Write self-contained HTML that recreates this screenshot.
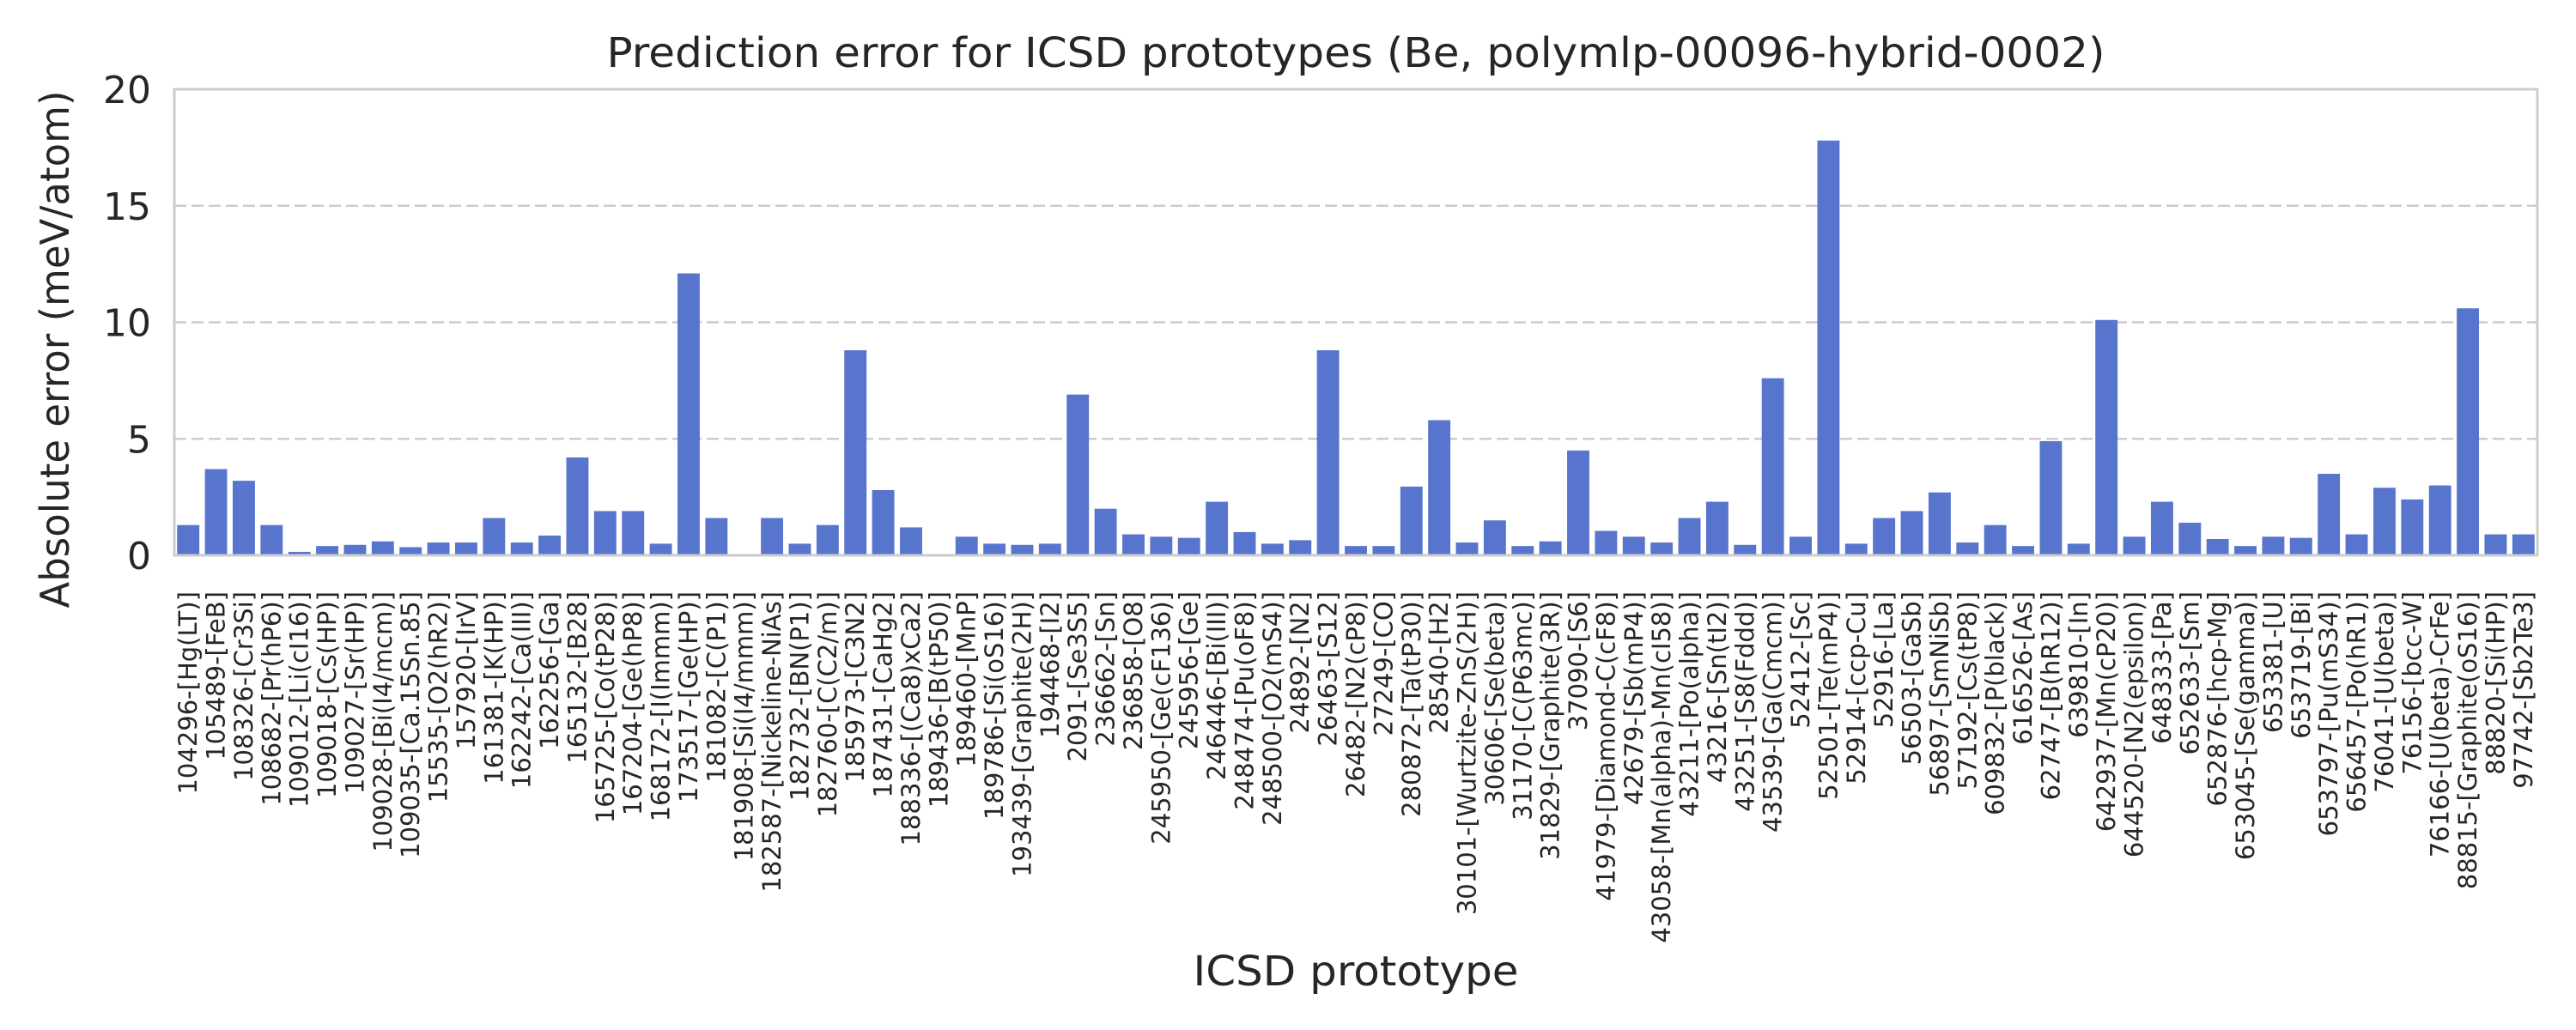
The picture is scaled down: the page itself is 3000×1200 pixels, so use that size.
<!DOCTYPE html>
<html><head><meta charset="utf-8"><style>
html,body{margin:0;padding:0;background:#fff;}
svg{display:block;font-family:"DejaVu Sans","Liberation Sans",sans-serif;}
</style></head><body>
<svg id="chart" width="3000" height="1200" viewBox="0 0 3000 1200">
<text x="1579" y="78" font-size="48" text-anchor="middle" textLength="1745" lengthAdjust="spacingAndGlyphs" fill="#262626">Prediction error for ICSD prototypes (Be, polymlp-00096-hybrid-0002)</text>
<text transform="translate(80,407) rotate(-90)" font-size="46" text-anchor="middle" textLength="603" lengthAdjust="spacingAndGlyphs" fill="#262626">Absolute error (meV/atom)</text>
<text x="1579" y="1148" font-size="48" text-anchor="middle" textLength="379" lengthAdjust="spacingAndGlyphs" fill="#262626">ICSD prototype</text>
<g id="grid"></g><g id="bars"></g><g id="yticks"></g><g id="xticks"></g>
<rect x="203" y="104" width="2752" height="543" fill="none" stroke="#cccccc" stroke-width="3"/>
</svg>
<script>
const categories = ["104296-[Hg(LT)]","105489-[FeB]","108326-[Cr3Si]","108682-[Pr(hP6)]","109012-[Li(cI16)]","109018-[Cs(HP)]","109027-[Sr(HP)]","109028-[Bi(I4/mcm)]","109035-[Ca.15Sn.85]","15535-[O2(hR2)]","157920-[IrV]","161381-[K(HP)]","162242-[Ca(III)]","162256-[Ga]","165132-[B28]","165725-[Co(tP28)]","167204-[Ge(hP8)]","168172-[I(Immm)]","173517-[Ge(HP)]","181082-[C(P1)]","181908-[Si(I4/mmm)]","182587-[Nickeline-NiAs]","182732-[BN(P1)]","182760-[C(C2/m)]","185973-[C3N2]","187431-[CaHg2]","188336-[(Ca8)xCa2]","189436-[B(tP50)]","189460-[MnP]","189786-[Si(oS16)]","193439-[Graphite(2H)]","194468-[I2]","2091-[Se3S5]","236662-[Sn]","236858-[O8]","245950-[Ge(cF136)]","245956-[Ge]","246446-[Bi(III)]","248474-[Pu(oF8)]","248500-[O2(mS4)]","24892-[N2]","26463-[S12]","26482-[N2(cP8)]","27249-[CO]","280872-[Ta(tP30)]","28540-[H2]","30101-[Wurtzite-ZnS(2H)]","30606-[Se(beta)]","31170-[C(P63mc)]","31829-[Graphite(3R)]","37090-[S6]","41979-[Diamond-C(cF8)]","42679-[Sb(mP4)]","43058-[Mn(alpha)-Mn(cI58)]","43211-[Po(alpha)]","43216-[Sn(tI2)]","43251-[S8(Fddd)]","43539-[Ga(Cmcm)]","52412-[Sc]","52501-[Te(mP4)]","52914-[ccp-Cu]","52916-[La]","56503-[GaSb]","56897-[SmNiSb]","57192-[Cs(tP8)]","609832-[P(black)]","616526-[As]","62747-[B(hR12)]","639810-[In]","642937-[Mn(cP20)]","644520-[N2(epsilon)]","648333-[Pa]","652633-[Sm]","652876-[hcp-Mg]","653045-[Se(gamma)]","653381-[U]","653719-[Bi]","653797-[Pu(mS34)]","656457-[Po(hR1)]","76041-[U(beta)]","76156-[bcc-W]","76166-[U(beta)-CrFe]","88815-[Graphite(oS16)]","88820-[Si(HP)]","97742-[Sb2Te3]"];
const errors = [1.3,3.7,3.2,1.3,0.15,0.4,0.45,0.6,0.35,0.55,0.55,1.6,0.55,0.85,4.2,1.9,1.9,0.5,12.1,1.6,0.0,1.6,0.5,1.3,8.8,2.8,1.2,0.0,0.8,0.5,0.45,0.5,6.9,2.0,0.9,0.8,0.75,2.3,1.0,0.5,0.65,8.8,0.4,0.4,2.95,5.8,0.55,1.5,0.4,0.6,4.5,1.05,0.8,0.55,1.6,2.3,0.45,7.6,0.8,17.8,0.5,1.6,1.9,2.7,0.55,1.3,0.4,4.9,0.5,10.1,0.8,2.3,1.4,0.7,0.4,0.8,0.75,3.5,0.9,2.9,2.4,3.0,10.6,0.9,0.9];
const yTicks = [0,5,10,15,20];

const NS="http://www.w3.org/2000/svg";
const L=203,R=2955,T=104,B=647,yMax=20;
const step=(R-L)/categories.length;
const xPos=i=>L+step*(i+0.5);
const yPos=v=>B-(v/yMax)*(B-T);
function mk(tag,attrs,parent){const e=document.createElementNS(NS,tag);for(const k in attrs)e.setAttribute(k,attrs[k]);parent.appendChild(e);return e;}
const grid=document.getElementById('grid'),bars=document.getElementById('bars'),yt=document.getElementById('yticks'),xt=document.getElementById('xticks');
yTicks.forEach(v=>{
  if(v>0&&v<yMax){const g=mk('line',{x1:L,x2:R,y1:yPos(v),y2:yPos(v),stroke:'#cccccc','stroke-width':2.5,'stroke-dasharray':'14,6'},grid);
  
  }
  const t=mk('text',{x:176,y:yPos(v)+16,'font-size':44,'text-anchor':'end',fill:'#262626'},yt);
  t.textContent=v;
  
  
});
categories.forEach((c,i)=>{
  const v=errors[i];
  const r=mk('rect',{x:xPos(i)-step*0.4,y:yPos(v),width:step*0.8,height:B-yPos(v),fill:'#5875cd'},bars);
  
  
  const t=mk('text',{transform:`translate(${xPos(i)+10},689) rotate(-90)`,'font-size':29,'text-anchor':'end',fill:'#262626'},xt);
  t.textContent=c;
  
  
});
</script>
</body></html>
